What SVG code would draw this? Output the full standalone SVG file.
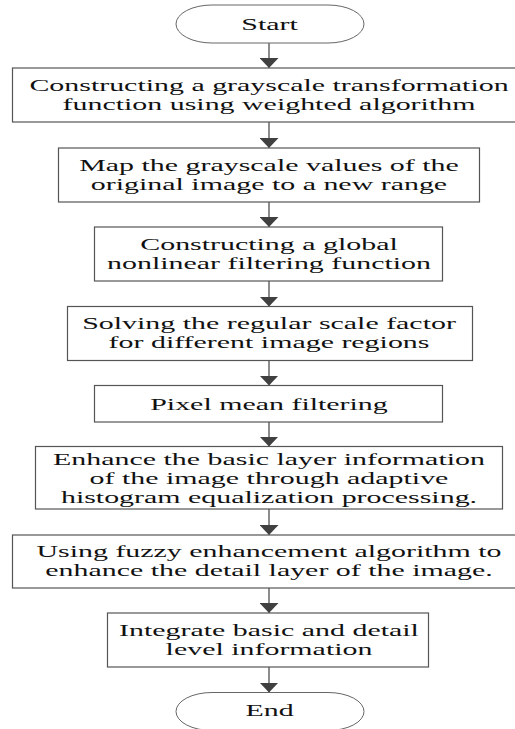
<svg xmlns="http://www.w3.org/2000/svg" width="515" height="729" viewBox="0 0 515 729">
<style>
.box{fill:#fff;stroke:#555;stroke-width:1.2}
.term{fill:#fff;stroke:#666;stroke-width:1}
text{font-family:'Liberation Serif','Times New Roman','DejaVu Serif',serif;font-size:17.5px;fill:#111;text-anchor:middle}
.c{stroke:#404040;stroke-width:1.2;fill:none}
</style>
<defs>
<marker id="ah" viewBox="0 0 10 19" refX="10" refY="9.5" markerWidth="10" markerHeight="19" markerUnits="userSpaceOnUse" orient="auto">
<path d="M0,0 L10,9.5 L0,19 Z" fill="#404040"/>
</marker>
</defs>
<rect width="515" height="729" fill="#fff"/>
<g id="connectors">
<line class="c" x1="269" y1="43" x2="269" y2="68" marker-end="url(#ah)"/>
<line class="c" x1="269" y1="122" x2="269" y2="148" marker-end="url(#ah)"/>
<line class="c" x1="269" y1="202" x2="269" y2="227" marker-end="url(#ah)"/>
<line class="c" x1="269" y1="281" x2="269" y2="306.5" marker-end="url(#ah)"/>
<line class="c" x1="269" y1="360.5" x2="269" y2="385.5" marker-end="url(#ah)"/>
<line class="c" x1="269" y1="422" x2="269" y2="446.5" marker-end="url(#ah)"/>
<line class="c" x1="269" y1="509" x2="269" y2="535" marker-end="url(#ah)"/>
<line class="c" x1="269" y1="588" x2="269" y2="613" marker-end="url(#ah)"/>
<line class="c" x1="269" y1="667" x2="269" y2="692.5" marker-end="url(#ah)"/>
</g>
<g font-family="Liberation Serif, Times New Roman, serif">
<g id="start">
<rect class="term" x="176" y="5" width="188" height="38" rx="36" ry="19"/>
<text transform="translate(269.5,29.8) scale(1.71,1)">Start</text>
</g>
<g id="step1">
<rect class="box" x="12.5" y="68" width="514" height="54"/>
<text transform="translate(269,91) scale(1.71,1)">Constructing a grayscale transformation</text>
<text transform="translate(269,110) scale(1.71,1)">function using weighted algorithm</text>
</g>
<g id="step2">
<rect class="box" x="58.5" y="148" width="421" height="54"/>
<text transform="translate(269,171) scale(1.71,1)">Map the grayscale values of the</text>
<text transform="translate(269,190) scale(1.71,1)">original image to a new range</text>
</g>
<g id="step3">
<rect class="box" x="94.5" y="227" width="348" height="54"/>
<text transform="translate(269,250) scale(1.71,1)">Constructing a global</text>
<text transform="translate(269,269) scale(1.71,1)">nonlinear filtering function</text>
</g>
<g id="step4">
<rect class="box" x="67.5" y="306.5" width="405" height="54"/>
<text transform="translate(269,329) scale(1.71,1)">Solving the regular scale factor</text>
<text transform="translate(269,348) scale(1.71,1)">for different image regions</text>
</g>
<g id="step5">
<rect class="box" x="94.5" y="385.5" width="348" height="36.5"/>
<text transform="translate(269,409.5) scale(1.71,1)">Pixel mean filtering</text>
</g>
<g id="step6">
<rect class="box" x="35.5" y="446.5" width="467" height="62.5"/>
<text transform="translate(269,465) scale(1.71,1)">Enhance the basic layer information</text>
<text transform="translate(269,484) scale(1.71,1)">of the image through adaptive</text>
<text transform="translate(269,503) scale(1.71,1)">histogram equalization processing.</text>
</g>
<g id="step7">
<rect class="box" x="12.5" y="535" width="514" height="53"/>
<text transform="translate(269,557) scale(1.71,1)">Using fuzzy enhancement algorithm to</text>
<text transform="translate(269,576) scale(1.71,1)">enhance the detail layer of the image.</text>
</g>
<g id="step8">
<rect class="box" x="107.5" y="613" width="321" height="54"/>
<text transform="translate(269,635.5) scale(1.71,1)">Integrate basic and detail</text>
<text transform="translate(269,654.5) scale(1.71,1)">level information</text>
</g>
<g id="end">
<rect class="term" x="176" y="692.5" width="188" height="38" rx="36" ry="19"/>
<text transform="translate(269.5,716) scale(1.71,1)">End</text>
</g>
</g>
</svg>
